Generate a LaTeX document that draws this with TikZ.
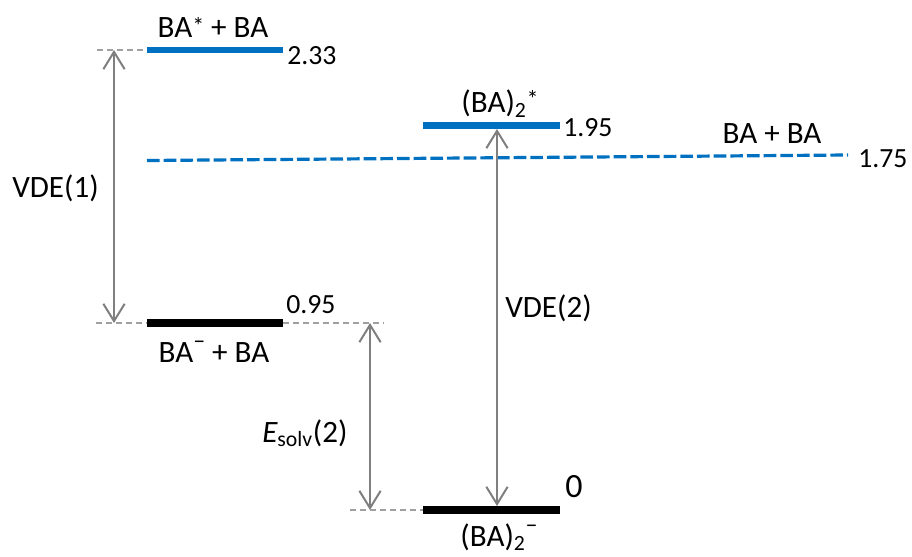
\documentclass[tikz,border=0pt]{standalone}
\usepackage{fontspec}
\setmainfont{Carlito}
\usetikzlibrary{arrows.meta}
\definecolor{lvlblue}{HTML}{0070C0}
\definecolor{arrgray}{HTML}{7F7F7F}
\definecolor{dashgray}{HTML}{A0A0A0}
\tikzset{
  bluelevel/.style={draw=lvlblue, line width=5.2pt},
  blacklevel/.style={draw=black, line width=5.6pt},
  guide/.style={draw=dashgray, line width=1.4pt, dash pattern=on 4.5pt off 3pt},
  bluedash/.style={draw=lvlblue, line width=2.4pt, dash pattern=on 9.5pt off 3pt},
  gap/.style={draw=arrgray, line width=1.5pt, {Straight Barb[length=13pt,width=16pt,line width=1.5pt]}-{Straight Barb[length=13pt,width=16pt,line width=1.5pt]}},
  lbl/.style={inner sep=0pt, font=\fontsize{23.3}{27}\selectfont},
  num/.style={inner sep=0pt, font=\fontsize{20.8}{24}\selectfont},
}
\newcommand{\supstar}{\raisebox{0.1em}{\fontsize{18}{18}\selectfont *}}
\newcommand{\supminus}{\raisebox{0.42em}{\fontsize{18}{18}\selectfont –}}
\begin{document}
\begin{tikzpicture}[x=0.75pt, y=-0.75pt]
\useasboundingbox (0,0) rectangle (912,556);
% coordinates
\coordinate (g1a) at (97,50);
\coordinate (t1) at (147,50);
\coordinate (t2) at (283,50);
\coordinate (m1) at (147,323);
\coordinate (m2) at (283,323);
\coordinate (g2a) at (96,323);
\coordinate (g2b) at (384,323);
\coordinate (b1) at (423,510);
\coordinate (b2) at (560,510);
\coordinate (g3a) at (350,510);
\coordinate (s1) at (423,125.5);
\coordinate (s2) at (560,125.5);
\coordinate (d1) at (147,160.5);
\coordinate (d2) at (848,155);
% guides
\draw[guide] (g1a) -- (t1);
\draw[guide] (g2a) -- (m1);
\draw[guide] (m2) -- (g2b);
\draw[guide] (g3a) -- (b1);
% levels
\draw[bluelevel] (t1) -- (t2);
\draw[blacklevel] (m1) -- (m2);
\draw[blacklevel] (b1) -- (b2);
\draw[bluelevel] (s1) -- (s2);
\draw[bluedash] (d1) -- (d2);
% arrows
\coordinate (a1t) at (114,50);
\coordinate (a1b) at (114,323);
\coordinate (a2t) at (370,323);
\coordinate (a2b) at (370,510);
\coordinate (a3t) at (497,129);
\coordinate (a3b) at (497,506);
\draw[gap] (a1t) -- (a1b);
\draw[gap] (a2t) -- (a2b);
\draw[gap] (a3t) -- (a3b);
% labels
\node[lbl, anchor=base] (l1) at (213,38) {BA\supstar{} + BA};
\node[num, anchor=base west] (v1) at (287,65) {2.33};
\node[num, anchor=base west] (v2) at (286,313) {0.95};
\node[lbl, anchor=base] (l2) at (214,362) {BA\supminus{} + BA};
\node[lbl, anchor=base] (l3) at (499,546) {(BA)\textsubscript{2}\supminus};
\node[lbl, anchor=base west, font=\fontsize{25.5}{29}\selectfont] (v0) at (565,497) {0};
\node[lbl, anchor=base] (l4) at (500,113) {(BA)\textsubscript{2}\raisebox{0.08em}{\supstar}};
\node[num, anchor=base west] (v3) at (563,137) {1.95};
\node[lbl, anchor=base] (l5) at (772,143) {BA + BA};
\node[num, anchor=base west] (v4) at (858,167) {1.75};
\node[lbl, anchor=base west] (vde1) at (12,197) {VDE(1)};
\node[lbl, anchor=base west] (vde2) at (505,317) {VDE(2)};
\node[lbl, anchor=base west] (es) at (262,442) {\itshape E\upshape\textsubscript{solv}(2)};
\end{tikzpicture}
\end{document}
